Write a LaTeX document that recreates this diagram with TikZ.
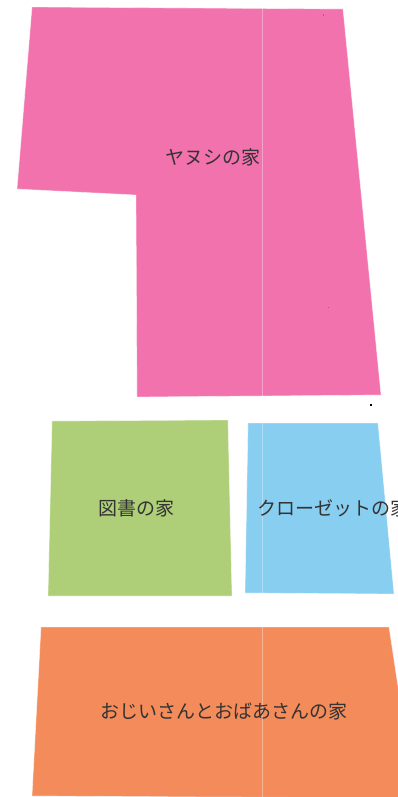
\documentclass[tikz,border=0pt]{standalone}
\usepackage{fontspec}
\newfontfamily\jpfont{Noto Sans CJK JP}
\definecolor{pinkc}{HTML}{F172AC}
\definecolor{greenc}{HTML}{AECF78}
\definecolor{bluec}{HTML}{87CEF1}
\definecolor{orangec}{HTML}{F48B5A}
\definecolor{txt}{HTML}{333333}
\tikzset{
  house/.style={draw=white, draw opacity=0.45, line width=0.8pt},
  lbl/.style={font=\jpfont\fontsize{19}{21}\selectfont, text=txt, inner sep=0pt},
}
\begin{document}
\begin{tikzpicture}[x=1pt,y=-1pt]
\useasboundingbox (0,0) rectangle (398,797);
\clip (0,0) rectangle (398,797);
\fill[white] (0,0) rectangle (398,797);
\fill[pinkc, house] (32,7) -- (343,9) -- (381,395) -- (137,397) -- (136,195) -- (17,189) -- cycle;
\fill[greenc, house] (52,421) -- (228,420) -- (232,596) -- (48,596) -- cycle;
\fill[bluec, house] (248,423) -- (378,423) -- (394,594) -- (245,593) -- cycle;
\fill[orangec, house] (41,627) -- (389,627) -- (400,700) -- (400,798) -- (32,796) -- cycle;
\draw[white, opacity=0.35, line width=0.6pt] (262.5,0) -- (262.5,797);
\fill[pinkc!75!black] (322.5,14.5) rectangle (324,16);
\fill[pinkc!75!black] (327.5,306.5) rectangle (329,308);
\fill[black] (370,404) rectangle (372,406);
\node[lbl] (yanushi) at (213,157) {ヤヌシの家};
\node[lbl] (tosho) at (136,508) {図書の家};
\node[lbl, anchor=west] (closet) at (257,508) {クローゼットの家};
\node[lbl] (ojii) at (224,711) {おじいさんとおばあさんの家};
\end{tikzpicture}
\end{document}
